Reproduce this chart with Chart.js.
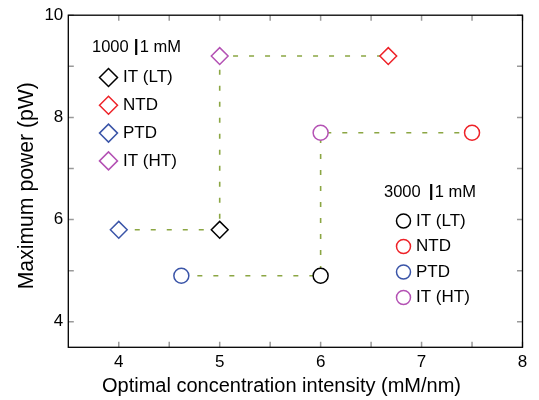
<!DOCTYPE html>
<html>
<head>
<meta charset="utf-8">
<script src="https://cdn.jsdelivr.net/npm/chart.js@4/dist/chart.umd.min.js"></script>
<style>
  html, body { margin: 0; padding: 0; background: #ffffff; }
  #wrap { width: 539px; height: 400px; }
</style>
</head>
<body>
<div id="wrap"><canvas id="chart"></canvas></div>
<script>
// Series shared by both groups
const seriesNames = ['IT (LT)', 'NTD', 'PTD', 'IT (HT)'];
const seriesColors = ['#000000', '#ee2228', '#3b55a8', '#b452b4'];

// 1000 | 1 mM group (diamonds)
const lowTitleLeft = '1000';
const lowTitleRight = '1 mM';
const lowX = [5.0, 6.67, 4.0, 5.0];
const lowY = [5.8, 9.2, 5.8, 9.2];

// 3000 | 1 mM group (circles)
const highTitleLeft = '3000';
const highTitleRight = '1 mM';
const highX = [6.0, 7.5, 4.62, 6.0];
const highY = [4.9, 7.7, 4.9, 7.7];

// Order in which the dashed guide joins the points of each group
const pathOrder = [2, 0, 3, 1];

// Axis ticks and labelled ticks
const xTicks = [4, 4.5, 5, 5.5, 6, 6.5, 7, 7.5, 8];
const xLabels = [4, 5, 6, 7, 8];
const yTicks = [4, 5, 6, 7, 8, 9, 10];
const yLabels = [4, 6, 8, 10];

const xTitle = 'Optimal concentration intensity (mM/nm)';
const yTitle = 'Maximum power (pW)';

const FONT = '"Liberation Sans", Arial, Helvetica, sans-serif';
const guideColor = '#8ba643';

const toPoints = (xs, ys) => xs.map((x, i) => ({ x: x, y: ys[i] }));
const toPath = (xs, ys) => pathOrder.map(i => ({ x: xs[i], y: ys[i] }));

// Inward tick marks on all four sides plus a black frame
const frameTicks = {
  id: 'frameTicks',
  afterDatasetsDraw(chart) {
    const { ctx, chartArea: a, scales } = chart;
    ctx.save();
    ctx.strokeStyle = '#9a9a9a';
    ctx.lineWidth = 1.5;
    const len = 5.5;
    ctx.beginPath();
    scales.x.ticks.forEach(t => {
      const px = scales.x.getPixelForValue(t.value);
      ctx.moveTo(px, a.bottom); ctx.lineTo(px, a.bottom - len);
      ctx.moveTo(px, a.top); ctx.lineTo(px, a.top + len);
    });
    scales.y.ticks.forEach(t => {
      const py = scales.y.getPixelForValue(t.value);
      ctx.moveTo(a.left, py); ctx.lineTo(a.left + len, py);
      ctx.moveTo(a.right, py); ctx.lineTo(a.right - len, py);
    });
    ctx.stroke();
    ctx.strokeStyle = '#000000';
    ctx.lineWidth = 1.3;
    ctx.strokeRect(a.left, a.top, a.right - a.left, a.bottom - a.top);
    ctx.restore();
  }
};

// Axis titles
const axisTitles = {
  id: 'axisTitles',
  afterDraw(chart) {
    const ctx = chart.ctx;
    ctx.save();
    ctx.fillStyle = '#000000';
    ctx.textAlign = 'center';
    ctx.textBaseline = 'alphabetic';
    ctx.font = '20px ' + FONT;
    ctx.fillText(xTitle, 281.5, 391.5);
    ctx.translate(33.3, 185.7);
    ctx.rotate(-Math.PI / 2);
    ctx.font = '21.2px ' + FONT;
    ctx.fillText(yTitle, 0, 0);
    ctx.restore();
  }
};

// Two in-plot legends, each with a "value | value" heading
function drawGroupLegend(ctx, opts) {
  ctx.save();
  ctx.fillStyle = '#000000';
  ctx.textBaseline = 'middle';
  ctx.textAlign = 'left';
  ctx.font = '16.5px ' + FONT;
  const w1 = ctx.measureText(opts.left).width;
  ctx.fillText(opts.left, opts.titleX, opts.titleY);
  const barX = opts.titleX + w1 + opts.barGap;
  ctx.fillRect(barX - 1.1, opts.titleY - 8, 2.2, 16);
  ctx.fillText(opts.right, barX + 3.5, opts.titleY);

  ctx.font = '17px ' + FONT;
  seriesNames.forEach((name, i) => {
    const y = opts.firstY + i * opts.step;
    ctx.strokeStyle = seriesColors[i];
    ctx.fillStyle = 'rgba(0,0,0,0)';
    ctx.lineWidth = 1.5;
    Chart.helpers.drawPoint(ctx, {
      pointStyle: opts.style, radius: opts.radius, borderWidth: 1.5, rotation: 0
    }, opts.markerX, y);
    ctx.fillStyle = '#000000';
    ctx.fillText(name, opts.textX, y);
  });
  ctx.restore();
}

const groupLegends = {
  id: 'groupLegends',
  afterDraw(chart) {
    const ctx = chart.ctx;
    drawGroupLegend(ctx, {
      left: lowTitleLeft, right: lowTitleRight, titleX: 92, titleY: 47, barGap: 7.5,
      style: 'rectRot', radius: 9, markerX: 108.5, textX: 123,
      firstY: 77.5, step: 27.8
    });
    drawGroupLegend(ctx, {
      left: highTitleLeft, right: highTitleRight, titleX: 384, titleY: 192, barGap: 10.5,
      style: 'circle', radius: 7, markerX: 403.5, textX: 416,
      firstY: 221, step: 25.5
    });
  }
};

new Chart(document.getElementById('chart'), {
  type: 'scatter',
  data: {
    datasets: [
      {
        label: '1000 | 1 mM',
        data: toPoints(lowX, lowY),
        pointStyle: 'rectRot',
        pointRadius: 8.4,
        pointHoverRadius: 8.4,
        pointBorderWidth: 1.5,
        pointBorderColor: seriesColors,
        pointBackgroundColor: '#ffffff',
        order: 1
      },
      {
        label: '3000 | 1 mM',
        data: toPoints(highX, highY),
        pointStyle: 'circle',
        pointRadius: 7.5,
        pointHoverRadius: 7.5,
        pointBorderWidth: 1.5,
        pointBorderColor: seriesColors,
        pointBackgroundColor: '#ffffff',
        order: 1
      },
      {
        label: '1000 guide',
        data: toPath(lowX, lowY),
        showLine: true,
        borderColor: guideColor,
        borderWidth: 1.6,
        borderDash: [5, 11],
        pointRadius: 0,
        order: 2
      },
      {
        label: '3000 guide',
        data: toPath(highX, highY),
        showLine: true,
        borderColor: guideColor,
        borderWidth: 1.6,
        borderDash: [5, 11],
        pointRadius: 0,
        order: 2
      }
    ]
  },
  options: {
    responsive: true,
    maintainAspectRatio: false,
    animation: false,
    events: [],
    layout: { padding: { top: 10.5, right: 16.5, left: 0, bottom: 0 } },
    plugins: {
      legend: { display: false },
      tooltip: { enabled: false }
    },
    scales: {
      x: {
        type: 'linear',
        min: 3.5,
        max: 8,
        afterBuildTicks: s => { s.ticks = xTicks.map(v => ({ value: v })); },
        afterFit: s => { s.height = 52.7; },
        grid: { display: false, drawTicks: false },
        border: { display: false },
        ticks: {
          autoSkip: false,
          maxRotation: 0,
          padding: 5,
          color: '#000000',
          font: { family: FONT, size: 17 },
          callback: v => (xLabels.includes(v) ? String(v) : '')
        },
        title: { display: false }
      },
      y: {
        type: 'linear',
        min: 3.5,
        max: 10,
        afterBuildTicks: s => { s.ticks = yTicks.map(v => ({ value: v })); },
        afterFit: s => { s.width = 68.3; },
        grid: { display: false, drawTicks: false },
        border: { display: false },
        ticks: {
          autoSkip: false,
          padding: 5,
          color: '#000000',
          font: { family: FONT, size: 17 },
          callback: v => (yLabels.includes(v) ? String(v) : '')
        },
        title: { display: false }
      }
    }
  },
  plugins: [frameTicks, axisTitles, groupLegends]
});
</script>
</body>
</html>
